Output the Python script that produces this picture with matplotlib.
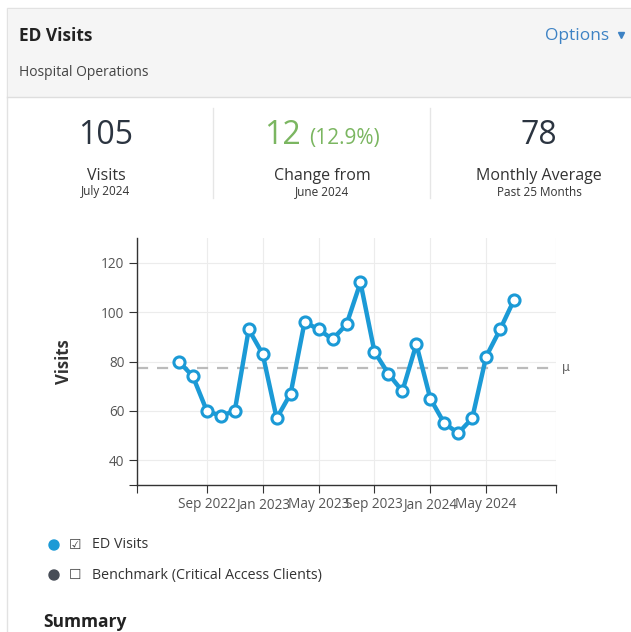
import numpy as np
import matplotlib.pyplot as plt
from matplotlib.patches import Rectangle, Circle

# dados do gráfico (jul 2022 -> jul 2024)
meses = ['Jul 2022', 'Aug 2022', 'Sep 2022', 'Oct 2022', 'Nov 2022', 'Dec 2022',
         'Jan 2023', 'Feb 2023', 'Mar 2023', 'Apr 2023', 'May 2023', 'Jun 2023',
         'Jul 2023', 'Aug 2023', 'Sep 2023', 'Oct 2023', 'Nov 2023', 'Dec 2023',
         'Jan 2024', 'Feb 2024', 'Mar 2024', 'Apr 2024', 'May 2024', 'Jun 2024',
         'Jul 2024']
visitas = [80, 74, 60, 58, 60, 93, 83, 57, 67, 96, 93, 89, 95, 112,
           84, 75, 68, 87, 65, 55, 51, 57, 82, 93, 105]
rotulos_x = ['Sep 2022', 'Jan 2023', 'May 2023', 'Sep 2023', 'Jan 2024', 'May 2024']
ticks_y = [40, 60, 80, 100, 120]

W, H = 631, 632
azul = '#1b9ad6'
fonte = 'Open Sans'

fig = plt.figure(figsize=(W / 100, H / 100), dpi=100)
fig.patch.set_facecolor('white')

# camada de fundo em pixels
bg = fig.add_axes([0, 0, 1, 1])
bg.set_xlim(0, W)
bg.set_ylim(H, 0)
bg.axis('off')

# cartão
bg.add_patch(Rectangle((7, 8), 640, 700, facecolor='white', edgecolor='#e2e2e2', lw=1))
bg.add_patch(Rectangle((7.5, 8.5), 640, 88, facecolor='#f5f5f5', edgecolor='none'))
bg.plot([7, W], [97, 97], color='#dedede', lw=1)

bg.text(19, 36, 'ED Visits', fontsize=12.5, fontweight='bold', color='#222222',
        family=fonte, va='center')
bg.text(19, 73, 'Hospital Operations', fontsize=10, color='#444444',
        family=fonte, va='center')
bg.text(609, 36, 'Options', fontsize=12.5, color='#3d82c4', family=fonte,
        va='center', ha='right')
bg.plot([621], [35], marker='v', color='#3d82c4', markersize=5)

# divisores dos indicadores
bg.plot([213, 213], [108, 198], color='#e6e6e6', lw=1)
bg.plot([430, 430], [108, 198], color='#e6e6e6', lw=1)

# indicadores
total = visitas[-1]
mudanca = visitas[-1] - visitas[-2]
pct = mudanca / visitas[-2] * 100
media = np.mean(visitas)

base = 144
bg.text(106, base, f'{total}', fontsize=23, color='#2b3440', family=fonte,
        ha='center', va='baseline')
bg.text(301, base, f'{mudanca}', fontsize=23, color='#7bb661', family=fonte,
        ha='right', va='baseline')
bg.text(309, base, f'({pct:.1f}%)', fontsize=15, color='#7bb661', family=fonte,
        ha='left', va='baseline')
bg.text(539, base, f'{media:.0f}', fontsize=23, color='#2b3440', family=fonte,
        ha='center', va='baseline')

bg.text(106, 176, 'Visits', fontsize=11.5, color='#333333', family=fonte,
        ha='center', va='center')
bg.text(106, 192, 'July 2024', fontsize=8.5, color='#333333', family=fonte,
        ha='center', va='center')
bg.text(322, 176, 'Change from', fontsize=11.5, color='#333333', family=fonte,
        ha='center', va='center')
bg.text(322, 192, 'June 2024', fontsize=8.5, color='#333333', family=fonte,
        ha='center', va='center')
bg.text(539, 176, 'Monthly Average', fontsize=11.5, color='#333333', family=fonte,
        ha='center', va='center')
bg.text(539, 192, 'Past 25 Months', fontsize=8.5, color='#333333', family=fonte,
        ha='center', va='center')

# legenda
bg.add_patch(Circle((54, 545), 5, color=azul))
bg.text(75, 545, '\u2611', fontsize=10, color='#444444', family='DejaVu Sans',
        ha='center', va='center')
bg.text(92, 545, 'ED Visits', fontsize=10.3, color='#333333', family=fonte, va='center')
bg.add_patch(Circle((54, 575), 5, color='#474d57'))
bg.text(75, 575, '\u2610', fontsize=10, color='#444444', family='DejaVu Sans',
        ha='center', va='center')
bg.text(92, 575, 'Benchmark (Critical Access Clients)', fontsize=10.3,
        color='#333333', family=fonte, va='center')

bg.text(43, 631, 'Summary', fontsize=12.5, fontweight='bold', color='#222222',
        family=fonte, va='bottom')

# gráfico de linha
x0, x1, y0, y1 = 137, 556, 238, 485
ax = fig.add_axes([x0 / W, 1 - y1 / H, (x1 - x0) / W, (y1 - y0) / H])
ax.set_facecolor('none')
x = np.arange(len(visitas))
ax.set_xlim(-3, 27)
ax.set_ylim(30, 130)

ax.plot(x, visitas, color=azul, lw=3.2, marker='o', markersize=8,
        markerfacecolor='white', markeredgecolor=azul, markeredgewidth=2.2,
        zorder=3, clip_on=False)
ax.axhline(media, color='#bbbbbb', lw=1.6, ls=(0, (5, 4)), zorder=2)
ax.text(27.4, media, '\u03bc', fontsize=9, color='#666666', va='center')

pos_x = [meses.index(r) for r in rotulos_x]
ax.set_xticks([-3] + pos_x + [27])
ax.set_xticklabels([''] + rotulos_x + [''])
ax.set_yticks([30] + ticks_y)
ax.set_yticklabels([''] + [str(v) for v in ticks_y])
ax.grid(True, color='#ececec', lw=0.8)
ax.set_axisbelow(True)

for s in ['top', 'right']:
    ax.spines[s].set_visible(False)
for s in ['left', 'bottom']:
    ax.spines[s].set_color('#333333')
    ax.spines[s].set_linewidth(1)
ax.tick_params(direction='out', length=6, color='#333333', labelsize=9.8,
               labelcolor='#555555', pad=3)
for lbl in ax.get_xticklabels() + ax.get_yticklabels():
    lbl.set_family(fonte)

ax.set_ylabel('Visits', fontsize=12, fontweight='bold', color='#333333',
              family=fonte, labelpad=20)

fig.savefig('out.png', dpi=100)
